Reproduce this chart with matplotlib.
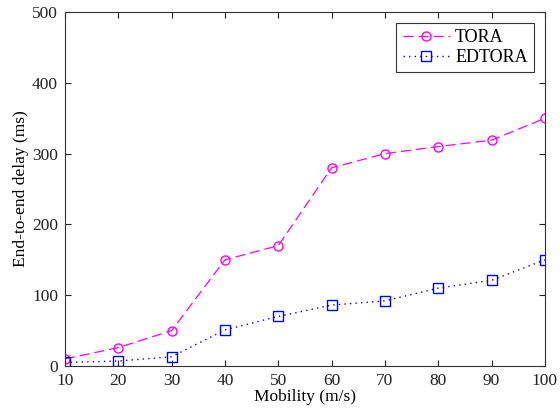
import matplotlib
matplotlib.use("Agg")
import matplotlib.pyplot as plt

mobility = [10, 20, 30, 40, 50, 60, 70, 80, 90, 100]
tora = [10, 26, 50, 150, 170, 280, 300, 310, 319, 350]
edtora = [5, 7, 13, 51, 70, 86, 92, 110, 121, 150]
xticks = [10, 20, 30, 40, 50, 60, 70, 80, 90, 100]
yticks = [0, 100, 200, 300, 400, 500]

plt.rcParams['font.family'] = ['Liberation Serif', 'DejaVu Serif']
plt.rcParams['font.size'] = 12

fig = plt.figure(figsize=(5.6, 4.12), dpi=100)
ax = fig.add_axes([0.116, 0.1117, 0.857, 0.859])

ax.plot(mobility, tora, color='#ff00ff', linestyle=(0, (8, 4)), linewidth=0.9,
        marker='o', markersize=6.5, markerfacecolor='none', markeredgecolor='#ff00ff',
        markeredgewidth=1.0, label='TORA')
ax.plot(mobility, edtora, color='#0000ff', linestyle=(0, (1, 3)), linewidth=1.0,
        marker='s', markersize=6.5, markerfacecolor='none', markeredgecolor='#0000ff',
        markeredgewidth=1.0, label='EDTORA')

ax.set_xlim(10, 100)
ax.set_ylim(0, 500)
ax.set_xticks(xticks)
ax.set_yticks(yticks)
ax.tick_params(direction='in', top=True, right=True, length=4, labelsize=12.5, colors='#222222')
ax.tick_params(axis='x', pad=5)
ax.tick_params(axis='y', pad=5)
for s in ax.spines.values():
    s.set_color('#333333')
    s.set_linewidth(0.8)
ax.set_xlabel('Mobility (m/s)', fontsize=12.5, labelpad=0)
ax.set_ylabel('End-to-end delay (ms)', fontsize=12.5, labelpad=2)

leg = ax.legend(loc='upper right', fancybox=False, edgecolor='#333333', framealpha=1,
                fontsize=13, handlelength=2.6, borderaxespad=0.6, labelspacing=0.15,
                borderpad=0.35, handletextpad=0.3)
leg.get_frame().set_linewidth(0.8)

fig.savefig('out.png', dpi=100)
